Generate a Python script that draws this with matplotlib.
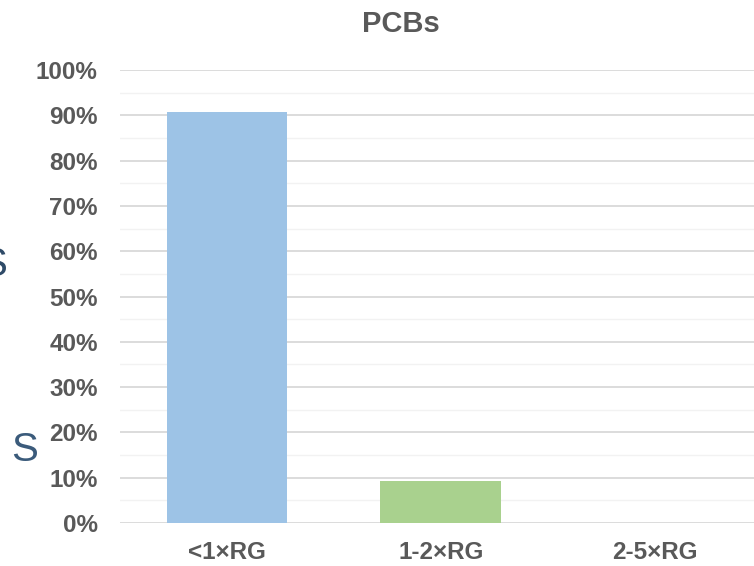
import matplotlib.pyplot as plt
import numpy as np

## datos
categorias = ["<1×RG", "1-2×RG", "2-5×RG"]
valores = [90.7, 9.3, 0.0]
colores = ["#9DC3E6", "#A9D18E", "#F4B183"]

plt.rcParams['font.family'] = ['Liberation Sans', 'DejaVu Sans']

fig = plt.figure(figsize=(7.54, 5.66), dpi=100)
ax = fig.add_axes([120 / 754, 1 - 523 / 566, 634 / 754, 453 / 566])

x = np.arange(len(categorias))
ax.bar(x, valores, width=0.565, color=colores, zorder=3)

ax.set_xlim(-0.5, 2.465)
ax.set_ylim(0, 100)
ax.set_yticks(np.arange(0, 101, 10))
ax.set_yticklabels([f"{v}%" for v in range(0, 101, 10)])
ax.set_yticks(np.arange(5, 100, 10), minor=True)
ax.set_xticks(x)
ax.set_xticklabels(categorias)

ax.grid(axis="y", which="major", color="#D9D9D9", linewidth=1.3, zorder=0)
ax.grid(axis="y", which="minor", color="#F2F2F2", linewidth=1.0, zorder=0)
for s in ax.spines.values():
    s.set_visible(False)
ax.tick_params(axis="both", which="both", length=0, colors="#595959")
ax.tick_params(axis="y", which="major", pad=16, labelsize=17.5)
ax.tick_params(axis="x", pad=13, labelsize=17.5)
for lbl in ax.get_xticklabels() + ax.get_yticklabels():
    lbl.set_fontweight("bold")

fig.text(401 / 754, 1 - 24 / 566, "PCBs", ha="center", va="center",
         fontsize=21, fontweight="bold", color="#595959")

# letras sueltas del borde de la diapositiva (cortadas en el original)
fig.text(-20 / 754, 1 - 265 / 566, "S", ha="left", va="center",
         fontsize=29, color="#2F4B68")
fig.text(11 / 754, 1 - 450 / 566, "S", ha="left", va="center",
         fontsize=29, color="#3B5B7B")

fig.savefig("out.png", dpi=100)
